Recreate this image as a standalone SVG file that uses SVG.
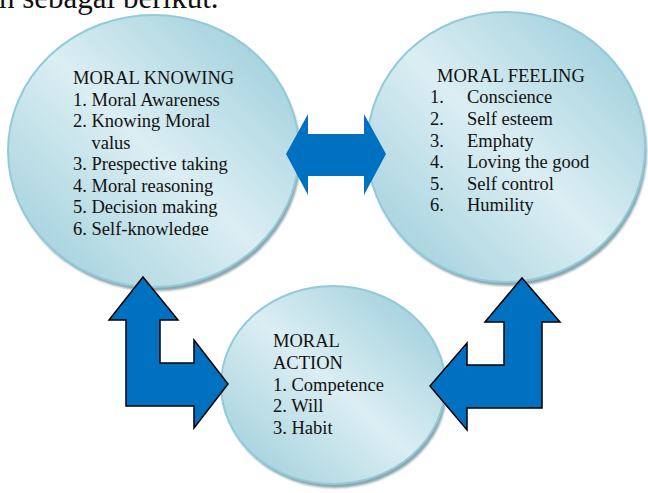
<svg xmlns="http://www.w3.org/2000/svg" width="648" height="493" viewBox="0 0 648 493">
  <defs>
    <!-- soft aqua fill: darker toward the upper-right and lower-left rims -->
    <linearGradient id="bubbleFill" x1="1" y1="0" x2="0" y2="1">
      <stop offset="0.08" stop-color="#9fcfdc"/>
      <stop offset="0.5" stop-color="#dbeef3"/>
      <stop offset="0.92" stop-color="#a3d1dd"/>
    </linearGradient>
    <filter id="soft" x="-5%" y="-5%" width="110%" height="110%">
      <feGaussianBlur stdDeviation="1"/>
    </filter>
    <clipPath id="knowClip">
      <rect x="0" y="0" width="320" height="235.5"/>
    </clipPath>
  </defs>
  <style>
    .shadow { fill: #8aa5ac; filter: url(#soft); }
    .bubble { fill: url(#bubbleFill); stroke: #92cad8; stroke-width: 2; }
    .label { font-family: "Liberation Serif", "Times New Roman", serif; font-size: 18.5px; fill: #111; }
    .heading { font-family: "Liberation Serif", "Times New Roman", serif; font-size: 31px; fill: #111; }
    .arrow { fill: #0070c0; }
    .outlined { stroke: #000; stroke-width: 1.5; stroke-linejoin: miter; }
  </style>

  <rect width="648" height="493" fill="#fff"/>

  <!-- running sentence cut at the top edge -->
  <text class="heading" x="-1" y="7.5">h sebagai berikut.</text>

  <g id="moral-knowing">
    <ellipse class="shadow" cx="155.5" cy="155" rx="145.5" ry="136"/>
    <ellipse class="bubble" cx="153.5" cy="151" rx="145.5" ry="136"/>
    <g class="label" clip-path="url(#knowClip)">
      <text x="73" y="84">MORAL KNOWING</text>
      <text x="73" y="105.5">1. Moral Awareness</text>
      <text x="73" y="127">2. Knowing Moral</text>
      <text x="91.5" y="148.5">valus</text>
      <text x="73" y="170">3. Prespective taking</text>
      <text x="73" y="191.5">4. Moral reasoning</text>
      <text x="73" y="213">5. Decision making</text>
      <text x="73" y="234.5">6. Self-knowledge</text>
    </g>
  </g>

  <g id="moral-feeling">
    <ellipse class="shadow" cx="508" cy="151" rx="139" ry="135"/>
    <ellipse class="bubble" cx="506" cy="147" rx="139" ry="135"/>
    <g class="label">
      <text x="437" y="81.7">MORAL FEELING</text>
      <text x="430" y="103.3">1.</text><text x="467" y="103.3">Conscience</text>
      <text x="430" y="125">2.</text><text x="467" y="125">Self esteem</text>
      <text x="430" y="146.6">3.</text><text x="467" y="146.6">Emphaty</text>
      <text x="430" y="168.2">4.</text><text x="467" y="168.2">Loving the good</text>
      <text x="430" y="189.8">5.</text><text x="467" y="189.8">Self control</text>
      <text x="430" y="211.4">6.</text><text x="467" y="211.4">Humility</text>
    </g>
  </g>

  <g id="moral-action">
    <ellipse class="shadow" cx="335" cy="389" rx="112" ry="99"/>
    <ellipse class="bubble" cx="333" cy="385" rx="112" ry="99"/>
    <g class="label">
      <text x="273" y="347">MORAL</text>
      <text x="273" y="368.8">ACTION</text>
      <text x="273" y="390.6">1. Competence</text>
      <text x="273" y="412.4">2. Will</text>
      <text x="273" y="434.2">3. Habit</text>
    </g>
  </g>

  <g id="connectors">
    <!-- two-way link between knowing and feeling -->
    <polygon class="arrow" points="286,154 308,114 308,134 364,134 364,114 386,154 364,195 364,176 308,176 308,195"/>
    <!-- bent two-way link: knowing and action -->
    <polygon class="arrow outlined" points="143,277 178,320 160,320 160,363 194,363 194,340 228,384 194,428 194,406 126,406 126,320 109,320"/>
    <!-- bent two-way link: feeling and action -->
    <polygon class="arrow outlined" points="522,278 560,322 542,322 542,408 467,408 467,430 430,386 467,343 467,365 504,365 504,322 485,322"/>
  </g>
</svg>
